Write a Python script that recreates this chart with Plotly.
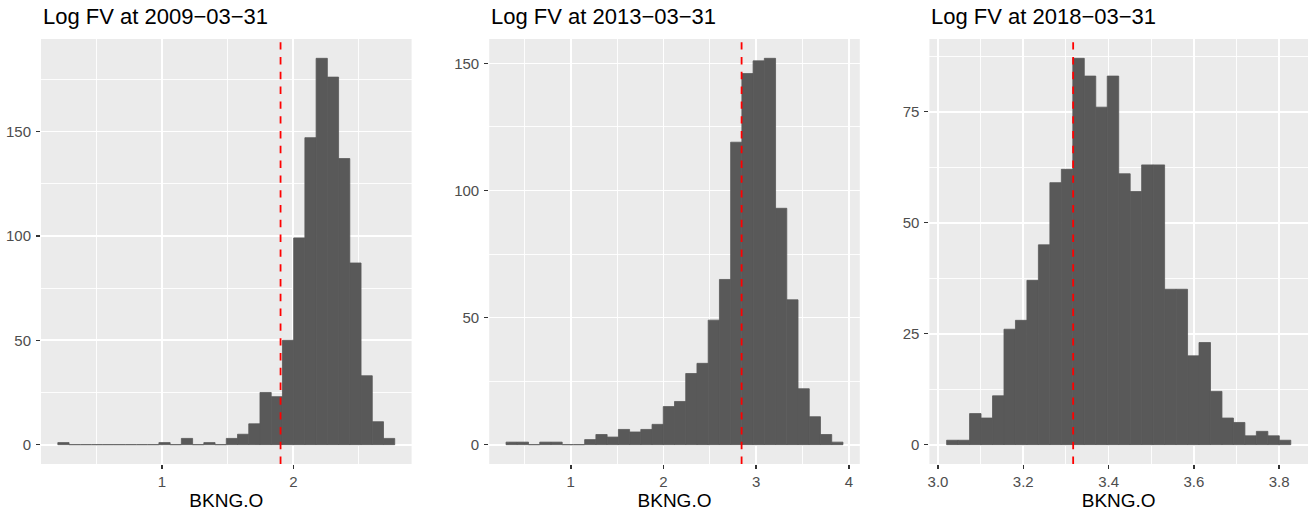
import plotly.graph_objects as go
import numpy as np

# ---- data ----
titles = ["Log FV at 2009\u221203\u221231",
          "Log FV at 2013\u221203\u221231",
          "Log FV at 2018\u221203\u221231"]
counts_2009 = [1, 0, 0, 0, 0, 0, 0, 0, 0, 1, 0, 3, 0, 1, 0, 3, 5, 10, 25, 23,
               50, 99, 147, 185, 176, 137, 87, 33, 11, 3]
counts_2013 = [1, 1, 0, 1, 1, 0, 0, 2, 4, 3, 6, 5, 6, 8, 15, 17, 28, 32, 49, 65,
               119, 146, 151, 152, 93, 57, 22, 11, 4, 1]
counts_2018 = [1, 1, 7, 6, 11, 26, 28, 37, 45, 59, 62, 87, 83, 76, 83, 61, 57, 63, 63, 35,
               35, 20, 23, 12, 6, 5, 2, 3, 2, 1]
bin_start = [0.208, 0.302, 3.0203]
bin_end = [2.772, 3.935, 3.8273]
fv_mark = [1.903, 2.842, 3.317]
x_title = "BKNG.O"

x_major = [1.0, 1.0, 0.2]
y_major = [50, 50, 25]

all_counts = [counts_2009, counts_2013, counts_2018]

W, H = 1309, 515
ML, MR, MT, MB = 41.3, 1.3, 39.0, 50.7
PW = W - ML - MR
x_dom_px = [(41.3, 411.7), (489.3, 859.7), (929.3, 1307.7)]

FONT = "Liberation Sans, Arial, Helvetica, sans-serif"
fig = go.Figure()
layout = dict(
    width=W, height=H,
    margin=dict(l=ML, r=MR, t=MT, b=MB, autoexpand=False),
    paper_bgcolor="white", plot_bgcolor="white",
    showlegend=False,
    font=dict(family=FONT),
    annotations=[], shapes=[],
)

for i in range(3):
    counts = np.array(all_counts[i], dtype=float)
    n = len(counts)
    width = (bin_end[i] - bin_start[i]) / n
    centers = bin_start[i] + width * (np.arange(n) + 0.5)
    sfx = "" if i == 0 else str(i + 1)
    fig.add_trace(go.Bar(x=centers, y=counts, width=width,
                         marker=dict(color="#595959",
                                     line=dict(width=0.8, color="#595959")),
                         xaxis="x" + sfx, yaxis="y" + sfx, hoverinfo="x+y"))
    span = bin_end[i] - bin_start[i]
    xr = [bin_start[i] - 0.05 * span, bin_end[i] + 0.05 * span]
    ymax = counts.max()
    yr = [-0.05 * ymax, ymax * 1.05]
    d0 = (x_dom_px[i][0] - ML) / PW
    d1 = (x_dom_px[i][1] - ML) / PW
    # panel background
    layout["shapes"].append(dict(
        type="rect", xref="x" + sfx + " domain", yref="y" + sfx + " domain",
        x0=0, x1=1, y0=0, y1=1, fillcolor="#EBEBEB", line=dict(width=0),
        layer="below",
    ))
    layout["xaxis" + sfx] = dict(
        domain=[max(0, d0), min(1, d1)], anchor="y" + sfx, range=xr,
        dtick=x_major[i], tick0=0,
        tickformat=".1f" if x_major[i] < 1 else "d",
        showgrid=True, gridcolor="white", gridwidth=1.8,
        minor=dict(dtick=x_major[i] / 2, tick0=0, showgrid=True,
                   gridcolor="white", gridwidth=0.9),
        zeroline=False, showline=False, automargin=False,
        ticks="outside", ticklen=4, tickwidth=1.5, tickcolor="#333333",
        tickfont=dict(size=15, color="#4D4D4D", family=FONT),
        title=dict(text=x_title, font=dict(size=19, color="black", family=FONT),
                   standoff=4),
        fixedrange=True,
    )
    layout["yaxis" + sfx] = dict(
        domain=[0, 1], anchor="x" + sfx, range=yr,
        dtick=y_major[i], tick0=0,
        showgrid=True, gridcolor="white", gridwidth=1.8,
        minor=dict(dtick=y_major[i] / 2, tick0=0, showgrid=True,
                   gridcolor="white", gridwidth=0.9),
        zeroline=False, showline=False, automargin=False,
        ticks="outside", ticklen=4, tickwidth=1.5, tickcolor="#333333",
        tickfont=dict(size=15, color="#4D4D4D", family=FONT),
        ticklabelstandoff=2,
        fixedrange=True,
    )
    layout["annotations"].append(dict(
        text=titles[i], xref="x" + sfx + " domain", yref="paper",
        x=0, y=1 + (MT - 31) / (H - MT - MB), xanchor="left", yanchor="bottom",
        showarrow=False, font=dict(size=22, color="black", family=FONT),
    ))
    layout["shapes"].append(dict(
        type="line", xref="x" + sfx, yref=("y" + sfx) + " domain",
        x0=fv_mark[i], x1=fv_mark[i], y0=0, y1=1,
        line=dict(color="#FF0000", width=1.8, dash="7.4px,7.4px"),
        layer="above",
    ))

fig.update_layout(**layout)
fig.write_html(
    "out.html",
    config={"displayModeBar": False, "staticPlot": True},
    post_script="document.body.style.margin='0';"
                "document.body.style.overflow='hidden';",
)
